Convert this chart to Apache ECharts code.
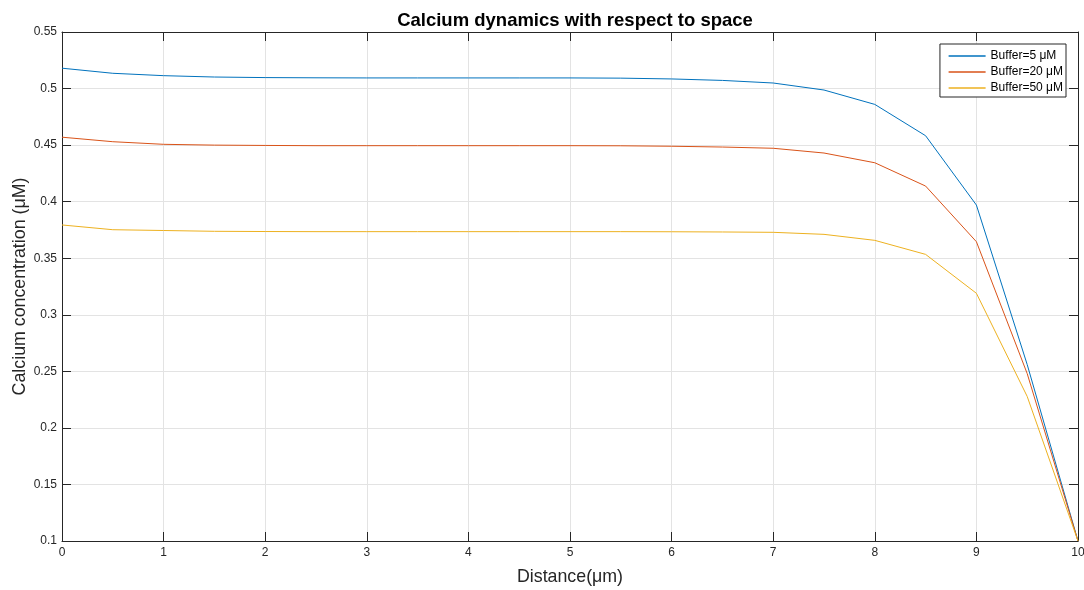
<!DOCTYPE html>
<html><head><meta charset="utf-8">
<script src="https://cdn.jsdelivr.net/npm/echarts@6/dist/echarts.min.js"></script>
<style>html,body{margin:0;padding:0;background:#fff}#c{width:1084px;height:590px}</style>
</head><body><div id="c"></div>
<script>
const distance = [0,0.5,1,1.5,2,2.5,3,3.5,4,4.5,5,5.5,6,6.5,7,7.5,8,8.5,9,9.5,10];
const buffer5  = [0.518,0.5135,0.5114,0.5102,0.5097,0.5095,0.5094,0.5094,0.5094,0.5094,0.5094,0.5092,0.5085,0.5072,0.5049,0.4987,0.4860,0.4583,0.3970,0.2560,0.1];
const buffer20 = [0.457,0.4530,0.4507,0.4500,0.4497,0.4495,0.4495,0.4495,0.4495,0.4495,0.4495,0.4494,0.4490,0.4483,0.4472,0.4430,0.4344,0.4138,0.3646,0.2480,0.1];
const buffer50 = [0.3794,0.3752,0.3745,0.3738,0.3736,0.3735,0.3735,0.3735,0.3735,0.3735,0.3735,0.3735,0.3734,0.3732,0.3729,0.3711,0.3658,0.3534,0.3190,0.2278,0.1];
const seriesNames = ['Buffer=5 μM','Buffer=20 μM','Buffer=50 μM'];
const colors = ['#0072BD','#D95319','#EDB120'];

const chart = echarts.init(document.getElementById('c'), null, {renderer:'canvas'});
const txt = '#262626';
const axisLine = {show:true, onZero:false, lineStyle:{color:'#262626', width:1}};
const tick = {show:true, inside:true, length:9, lineStyle:{color:'#262626'}};
const font = 'Liberation Sans, Arial, Helvetica, sans-serif';
function mk(name, data, i){
  return {name, type:'line', data: distance.map((d,k)=>[d,data[k]]), symbol:'none',
    lineStyle:{color:colors[i], width:1}, itemStyle:{color:colors[i]}, xAxisIndex:0, yAxisIndex:0, animation:false, z:3};
}
chart.setOption({
  animation:false,
  textStyle:{fontFamily:font},
  title:{text:'Calcium dynamics with respect to space', left:570, textAlign:'center', top:6,
    textStyle:{fontSize:18.5, fontWeight:'bold', color:'#000', fontFamily:font}},
  grid:{left:62, right:6, top:32, bottom:49, containLabel:false, outerBoundsMode:'none'},
  legend:{data:seriesNames.map((n,i)=>({name:n, itemStyle:{opacity:0}, lineStyle:{color:colors[i], width:1.3, opacity:1}})),
    orient:'vertical', right:18, top:44, padding:[6,3,3,8],
    itemWidth:37, itemHeight:12, itemGap:4, backgroundColor:'#fff', borderColor:'#262626', borderWidth:1,
    textStyle:{fontSize:12, color:'#000', fontFamily:font}},
  xAxis:[{type:'value', min:0, max:10, interval:1, name:'Distance(μm)', nameLocation:'middle', nameGap:27, nameMoveOverlap:false,
    nameTextStyle:{fontSize:17.8, color:txt, fontFamily:font},
    axisLine, axisTick:tick, axisLabel:{fontSize:12, color:txt, margin:6},
    splitLine:{show:true, lineStyle:{color:'#e3e3e3', width:1}}},
   {type:'value', position:'top', min:0, max:10, interval:1, axisLine, axisTick:tick, axisLabel:{show:false}, splitLine:{show:false}}],
  yAxis:[{type:'value', min:0.1, max:0.55, interval:0.05, name:'Calcium concentration (μM)', nameLocation:'middle', nameGap:33, nameMoveOverlap:false,
    nameTextStyle:{fontSize:17.8, color:txt, fontFamily:font},
    axisLine, axisTick:tick, axisLabel:{fontSize:12, color:txt, margin:5, formatter:v=>String(+v.toFixed(2))},
    splitLine:{show:true, lineStyle:{color:'#e3e3e3', width:1}}},
   {type:'value', position:'right', min:0.1, max:0.55, interval:0.05, axisLine, axisTick:tick, axisLabel:{show:false}, splitLine:{show:false}}],
  series:[mk(seriesNames[0],buffer5,0), mk(seriesNames[1],buffer20,1), mk(seriesNames[2],buffer50,2)]
});
</script></body></html>
